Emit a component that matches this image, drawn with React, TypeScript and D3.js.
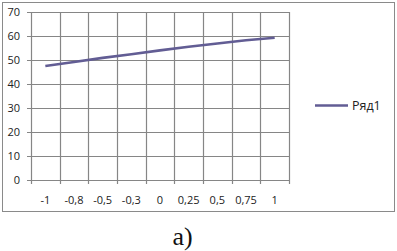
import React from "react";
import * as d3 from "d3";

const categories = ["-1", "-0,8", "-0,5", "-0,3", "0", "0,25", "0,5", "0,75", "1"];
const seriesValues = [47.5, 49.2, 50.9, 52.4, 54.0, 55.5, 56.9, 58.2, 59.3];
const yTicks = [0, 10, 20, 30, 40, 50, 60, 70];
const seriesName = "Ряд1";
const caption = "a)";

export default function App() {
  const W = 397, H = 251;
  const left = 31, right = 289, top = 12, bottom = 180;
  const x = d3.scaleBand<string>().domain(categories).range([left, right]);
  const y = d3.scaleLinear().domain([0, 70]).range([bottom, top]);
  const line = d3.line<number>()
    .x((_, i) => (x(categories[i]) as number) + x.bandwidth() / 2)
    .y((d) => y(d));
  const bounds = categories.map((c) => x(c) as number).concat([right]);
  const font = "'Open Sans', 'DejaVu Sans', sans-serif";
  return (
    <svg width={W} height={H} style={{ position: "absolute", left: 0, top: 0 }}>
      <rect x={0} y={0} width={W} height={H} fill="#fff" />
      <rect x={2.5} y={2.5} width={392} height={209} fill="#fff" stroke="#8a8a8a" strokeWidth={1} />
      {yTicks.map((t) => (
        <g key={"y" + t}>
          <line x1={left - 4} x2={right} y1={Math.round(y(t)) + 0.5} y2={Math.round(y(t)) + 0.5} stroke="#868686" strokeWidth={1.2} />
          <text x={20} y={y(t)} dy="0.35em" textAnchor="end" fontFamily={font} fontSize={11} fill="#222">{t}</text>
        </g>
      ))}
      {bounds.map((b, i) => (
        <line key={"x" + i} x1={Math.round(b) + 0.5} x2={Math.round(b) + 0.5} y1={top} y2={bottom + 4} stroke="#868686" strokeWidth={1.2} />
      ))}
      {categories.map((c) => (
        <text key={"c" + c} x={(x(c) as number) + x.bandwidth() / 2} y={200} dy="0.35em" textAnchor="middle" fontFamily={font} fontSize={11} fill="#222">{c}</text>
      ))}
      <path d={line(seriesValues) || ""} fill="none" stroke="#625d94" strokeWidth={2.6} />
      <line x1={315} x2={348} y1={105.5} y2={105.5} stroke="#625d94" strokeWidth={2.6} />
      <text x={352} y={106} dy="0.35em" fontFamily={font} fontSize={12.5} fill="#222">{seriesName}</text>
      <text x={182.5} y={245} textAnchor="middle" fontFamily="'Liberation Serif', 'DejaVu Serif', serif" fontSize={26} fill="#111">{caption}</text>
    </svg>
  );
}
